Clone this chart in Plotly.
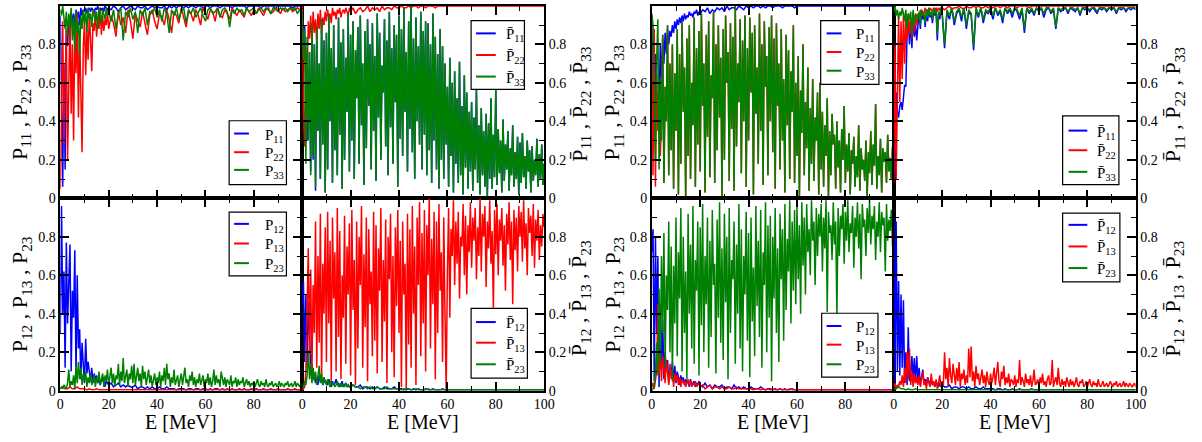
import plotly.graph_objects as go

W, H = 1202, 442
BLUE, RED, GREEN = "#0000ff", "#ff0000", "#008000"
FONT = '"Liberation Serif", "Times New Roman", Times, serif'

# Energy grids (MeV)
E_FINE = [i * 0.5 for i in range(201)]
E_MIX = [i * 0.5 for i in range(40)] + [float(e) for e in range(20, 101)]
E_COARSE = [float(e) for e in range(20)] + [float(e) for e in range(20, 101, 5)]

# ---------------- probabilities in percent ----------------
# left group, upper left: P11, P22, P33
P11_L = [95, 40, 6, 70, 15, 88, 79, 93, 85, 97, 91, 96, 89, 98, 94, 97, 90, 99, 95, 98,
         97, 99, 96, 98, 99, 97, 99, 98, 96, 99, 98, 100, 97, 99, 98, 99, 97, 100, 99, 98,
         99, 98, 100, 99, 97, 99, 100, 98, 99, 100, 99, 98, 100, 99, 99, 100, 98, 99, 100, 99,
         100, 99, 99, 100, 98, 100, 99, 100, 99, 100, 100, 99, 100, 99, 100, 100, 99, 100, 100, 99,
         100, 100, 99, 100, 100, 100, 99, 100, 100, 100, 100, 99, 100, 100, 100, 100, 100, 99, 100, 100,
         100, 100, 100, 99, 100, 100, 100, 100, 100, 99, 100, 100, 100, 100, 100, 100, 99, 100, 100, 100,
         100]
P22_L = [5, 62, 92, 28, 52, 88, 20, 74, 95, 44, 80, 30, 90, 65, 96, 42, 86, 55, 24, 78,
         93, 64, 88, 72, 96, 83, 66, 91, 87, 97, 84, 92, 88, 98, 85, 95, 87, 93, 90, 97,
         88, 95, 91, 84, 97, 90, 94, 86, 98, 92, 83, 96, 93, 89, 97, 91, 85, 95, 98, 92,
         88, 96, 94, 90, 98, 93, 86, 97, 95, 91, 99, 94, 89, 97, 96, 92, 98, 95, 90, 99,
         96, 93, 98, 97, 92, 99, 95, 94, 98, 96, 93, 99, 97, 95, 98, 96, 94, 99, 97, 95,
         98, 96, 99, 97, 95, 98, 99, 96, 97, 99, 98, 96, 99, 97, 98, 99, 97, 98, 99, 98,
         99]
P33_L = [98, 95, 100, 93, 88, 97, 84, 96, 90, 99, 82, 94, 77, 97, 86, 92, 75, 95, 88, 98,
         91, 97, 86, 99, 93, 96, 89, 98, 94, 92, 97, 88, 99, 95, 91, 98, 96, 93, 99, 95,
         97, 92, 98, 88, 96, 99, 82, 97, 94, 99, 93, 97, 86, 98, 95, 99, 90, 97, 96, 99,
         94, 98, 92, 99, 96, 86, 98, 95, 99, 93, 97, 99, 91, 98, 96, 99, 94, 97, 99, 95,
         92, 98, 99, 96, 97, 99, 94, 98, 99, 97, 89, 98, 96, 99, 97, 98, 95, 99, 97, 98,
         99, 96, 98, 99, 97, 99, 98, 96, 99, 98, 97, 99, 98, 99, 97, 99, 98, 99, 96, 98,
         99]

# left group, upper right: Pbar11, Pbar22, Pbar33
PB33_L = [97, 72, 88, 18, 84, 30, 76, 12, 91, 22, 80, 6, 89, 35, 70, 10, 93, 28, 82, 3,
          86, 15, 95, 40, 78, 8, 90, 25, 68, 12, 94, 33, 81, 5, 88, 20, 73, 45, 96, 14,
          85, 30, 92, 10, 77, 52, 89, 18, 95, 38, 70, 7, 87, 26, 93, 48, 80, 15, 91, 35,
          74, 9, 96, 42, 86, 20, 69, 55, 93, 27, 82, 12, 97, 37, 78, 18, 90, 50, 85, 6,
          95, 31, 88, 22, 99, 45, 76, 14, 92, 36, 100, 24, 83, 10, 94, 40, 79, 28, 97, 15,
          87, 33, 92, 12, 91, 25, 80, 8, 96, 30, 84, 15, 75, 5, 88, 20, 79, 10, 70, 28,
          58, 6, 73, 22, 60, 3, 66, 18, 52, 8, 71, 12, 48, 2, 64, 16, 55, 5, 45, 14,
          50, 4, 42, 15, 57, 8, 38, 2, 47, 12, 35, 6, 44, 1, 39, 10, 52, 5, 33, 11,
          57, 7, 36, 13, 30, 3, 41, 9, 28, 15, 35, 4, 26, 12, 38, 6, 24, 10, 32, 2,
          29, 8, 34, 11, 22, 5, 30, 14, 25, 3, 27, 9, 20, 12, 31, 6, 23, 10, 28, 7,
          18]
PB11_L_LOW = [98, 75, 90, 48, 30, 40, 76, 14, 91, 20, 80, 4]
PB11_L = PB11_L_LOW + PB33_L[len(PB11_L_LOW):]
PB22_L = [100, 45, 27, 78, 60, 92, 83, 95, 80, 97, 86, 93, 82, 96, 88, 98, 85, 94, 90, 97,
          92, 98, 94, 96, 91, 99, 95, 97, 93, 98, 96, 99, 94, 97, 98, 96, 99, 97, 95, 99,
          97, 99, 96, 98, 99, 97, 98, 100, 97, 99, 98, 99, 97, 100, 98, 99, 99, 98, 100, 99,
          99, 100, 99, 99, 100, 99, 100, 100, 99, 100, 100, 99, 100, 100, 100, 99, 100, 100, 100, 100,
          100, 100, 100, 100, 100, 100, 100, 100, 100, 100, 100, 100, 100, 100, 100, 100, 100, 100, 100, 100,
          100, 100, 100, 100, 100, 100, 100, 100, 100, 100, 100, 100, 100, 100, 100, 100, 100, 100, 100, 100,
          100]

# left group, lower left: P12, P13, P23
P12_L = [30, 96, 40, 62, 12, 77, 35, 55, 76, 10, 52, 38, 73, 8, 60, 22, 32, 6, 25, 14,
         4, 27, 9, 15, 11, 5, 12, 4, 9, 6, 8, 4, 7, 3, 6, 5, 7, 2, 5, 4,
         3, 4, 2, 3, 4, 2, 3, 2, 3, 2, 2, 3, 1, 2, 2, 1, 2, 1, 2, 1,
         1, 2, 1, 1, 2, 1, 1, 1, 0.5, 1, 1, 1, 0.5, 1, 1, 0.5, 1, 1, 0.5, 1,
         1, 0.5, 1, 0.5, 1, 1, 0.5, 1, 0.5, 1, 0.5, 1, 0.5, 0.5, 1, 0.5, 1, 0.5, 0.5, 1,
         0.5, 1, 0.5, 0.5, 1, 0.5, 0.5, 1, 0.5, 0.5, 1, 0.5, 0.5, 0.5, 1, 0.5, 0.5, 1, 0.5, 0.5,
         0.5]
P13_L = [1, 2, 1, 1, 2, 1, 1, 2, 1, 1, 1, 0.5, 1, 0.5, 0.5, 1, 0.5, 0.5, 0.5, 0.5,
         0.5, 0.5, 0.5, 0.5, 0.5, 0.5, 0.5, 0.5, 0.5, 0.5, 0.5, 0.5, 0.5, 0.5, 0.5, 0.5, 0.5]
P23_L = [1, 2, 1, 3, 2, 1, 4, 11, 2, 5, 3, 8, 1, 13, 4, 15, 6, 12, 3, 9,
         5, 10, 2, 7, 4, 9, 3, 6, 8, 2, 7, 4, 10, 3, 6, 9, 2, 8, 5, 11,
         3, 7, 12, 4, 9, 2, 8, 6, 14, 3, 10, 5, 17, 4, 7, 11, 2, 9, 6, 13,
         4, 14, 3, 8, 12, 5, 9, 2, 13, 6, 10, 3, 7, 11, 4, 8, 2, 6, 9, 3,
         7, 4, 10, 2, 8, 5, 12, 3, 14, 6, 9, 2, 7, 4, 11, 3, 6, 8, 2, 5,
         9, 3, 7, 12, 4, 6, 2, 8, 5, 10, 3, 7, 2, 6, 4, 9, 3, 5, 8, 2,
         6, 4, 9, 3, 7, 2, 5, 11, 3, 8, 4, 6, 2, 10, 5, 3, 7, 2, 6, 4,
         3, 8, 2, 5, 4, 7, 2, 6, 3, 5, 4, 7, 2, 4, 6, 3, 5, 2, 4, 3,
         5, 2, 4, 6, 3, 2, 5, 3, 4, 2, 6, 3, 2, 4, 3, 5, 2, 3, 4, 2,
         3, 5, 2, 4, 3, 2, 4, 3, 5, 2, 3, 4, 2, 3, 5, 2, 4, 3, 2, 4,
         3]

# left group, lower right: Pbar12, Pbar13, Pbar23
PB12_L = [45, 57, 15, 50, 12, 46, 30, 10, 14, 6, 9, 4, 7, 3, 8, 5, 6, 3, 7, 4,
          5, 3, 6, 4, 2, 5, 3, 4, 6, 3, 4, 2, 3, 5, 2, 3, 4, 2, 3, 2,
          2, 3, 2, 2, 3, 1, 2, 2, 1, 2, 1, 2, 1, 1, 2, 1, 1, 1, 2, 1,
          1, 1, 0.5, 1, 1, 0.5, 1, 0.5, 1, 0.5, 0.5, 1, 0.5, 0.5, 1, 0.5, 0.5, 0.5, 1, 0.5,
          0.5, 0.5, 0.5, 0.5, 0.5, 0.5, 0.5, 0.5, 0.5, 0.5, 0.5, 0.5, 0.5, 0.5, 0.5, 0.5, 0.5, 0.5, 0.5, 0.5,
          0.5, 0.5, 0.5, 0.5, 0.5, 0.5, 0.5, 0.5, 0.5, 0.5, 0.5, 0.5, 0.5, 0.5, 0.5, 0.5, 0.5, 0.5, 0.5, 0.5,
          0.5]
PB13_L = [0, 1, 2, 10, 45, 74, 20, 63, 8, 55, 30, 88, 12, 70, 25, 92, 5, 66, 40, 85,
          15, 93, 35, 78, 4, 90, 48, 72, 10, 95, 28, 83, 6, 60, 38, 91, 14, 75, 50, 87,
          8, 94, 42, 68, 3, 88, 22, 80, 55, 96, 12, 71, 33, 90, 5, 84, 45, 62, 18, 93,
          26, 86, 9, 74, 52, 95, 15, 68, 36, 89, 4, 80, 58, 92, 20, 70, 7, 85, 44, 94,
          30, 78, 2, 88, 50, 66, 0, 92, 24, 84, 12, 96, 40, 75, 3, 90, 55, 98, 18, 82,
          35, 94, 10, 86, 60, 100, 22, 79, 45, 93, 6, 88, 30, 97, 52, 72, 15, 90, 40, 0,
          62, 95, 38, 84, 70, 99, 55, 88, 66, 93, 48, 80, 75, 97, 60, 91, 50, 86, 72, 98,
          64, 90, 78, 95, 58, 85, 70, 100, 62, 92, 80, 96, 54, 88, 74, 99, 66, 83, 42, 94,
          71, 97, 60, 89, 78, 95, 65, 86, 52, 92, 76, 98, 68, 88, 45, 94, 73, 90, 62, 96,
          80, 93, 67, 99, 74, 87, 60, 95, 82, 91, 70, 97, 64, 89, 78, 94, 68, 86, 75, 92,
          85]
PB23_L = [1, 2, 5, 3, 8, 21, 6, 14, 4, 12, 5, 10, 3, 8, 13, 4, 9, 3, 7, 5,
          3, 6, 4, 2, 5, 3, 4, 2, 3, 5, 2, 3, 4, 2, 3, 2, 4, 2, 3, 2,
          2, 3, 2, 2, 1, 2, 2, 1, 2, 1, 1, 2, 1, 1, 1, 2, 1, 1, 1, 1,
          1, 0.5, 1, 0.5, 1, 0.5, 0.5, 1, 0.5, 0.5, 0.5, 0.5, 1, 0.5, 0.5, 0.5, 0.5, 0.5, 0.5, 0.5,
          0.5, 0.5, 0.5, 0.5, 0.5, 0.5, 0.5, 0.5, 0.5, 0.5, 0.5, 0.5, 0.5, 0.5, 0.5, 0.5, 0.5, 0.5, 0.5, 0.5,
          0.5, 0.5, 0.5, 0.5, 0.5, 0.5, 0.5, 0.5, 0.5, 0.5, 0.5, 0.5, 0.5, 0.5, 0.5, 0.5, 0.5, 0.5, 0.5, 0.5,
          0.5]

# right group, upper left: P11, P22, P33
P33_R = [96, 90, 55, 20, 72, 93, 15, 62, 30, 85, 8, 58, 40, 90, 12, 70, 25, 80, 5, 65,
         35, 88, 2, 75, 18, 92, 45, 68, 0, 83, 22, 90, 10, 60, 38, 94, 6, 78, 28, 87,
         14, 96, 48, 70, 3, 85, 32, 92, 11, 64, 52, 97, 8, 80, 25, 90, 42, 73, 1, 88,
         20, 95, 60, 76, 9, 91, 36, 84, 4, 100, 27, 70, 50, 93, 13, 82, 40, 95, 6, 78,
         30, 94, 55, 86, 2, 90, 44, 68, 18, 96, 35, 80, 7, 92, 58, 74, 12, 89, 40, 95,
         24, 83, 5, 91, 48, 70, 15, 88, 30, 62, 3, 85, 38, 77, 10, 66, 45, 90, 8, 60,
         22, 74, 0, 56, 34, 80, 12, 50, 26, 68, 4, 47, 18, 62, 9, 42, 30, 55, 2, 60,
         15, 45, 6, 38, 22, 52, 1, 35, 12, 44, 28, 33, 5, 40, 16, 30, 3, 36, 20, 48,
         8, 28, 14, 34, 2, 25, 18, 32, 6, 22, 11, 38, 4, 26, 15, 20, 9, 30, 1, 24,
         13, 35, 7, 28, 17, 49, 5, 22, 12, 31, 3, 26, 19, 24, 8, 33, 14, 21, 10, 27,
         16]
P22_R_LOW = [90, 12, 88, 6, 65, 35, 58, 22, 40, 85]
P22_R = P22_R_LOW + P33_R[len(P22_R_LOW):]
P11_R = [92, 60, 30, 75, 45, 55, 47, 80, 60, 83, 70, 86, 75, 88, 80, 87, 84, 90, 86, 92,
         88, 93, 90, 94, 91, 95, 92, 96, 93, 95, 94, 97, 95, 96, 94, 97, 96, 98, 95, 97,
         96, 98, 97, 99, 96, 98, 97, 99, 98, 99, 97, 100, 98, 99, 99, 98, 100, 99, 98, 100,
         99, 100, 99, 100, 100, 99, 100, 99, 100, 100, 99, 100, 100, 100, 99, 100, 100, 100, 100, 99,
         100, 100, 100, 100, 100, 100, 100, 100, 100, 100, 100, 100, 100, 100, 100, 100, 100, 100, 100, 100,
         100, 100, 100, 100, 100, 100, 100, 100, 100, 100, 100, 100, 100, 100, 100, 100, 100, 100, 100, 100,
         100]

# right group, upper right: Pbar11, Pbar22, Pbar33
PB11_R = [10, 35, 55, 45, 42, 48, 50, 46, 52, 59, 58, 85, 93, 80, 92, 78, 95, 84, 90, 82,
          90, 96, 88, 98, 93, 95, 89, 97, 92, 99, 94, 96, 91, 98, 95, 97, 82, 96, 93, 98,
          96, 78, 97, 93, 99, 90, 96, 98, 92, 99, 88, 97, 95, 77, 98, 94, 99, 91, 97, 96,
          98, 93, 99, 95, 97, 91, 99, 96, 98, 94, 99, 97, 93, 98, 86, 99, 96, 98, 95, 99,
          97, 99, 94, 98, 99, 96, 98, 88, 99, 97, 98, 99, 96, 99, 98, 97, 99, 95, 99, 98,
          99, 97, 99, 98, 96, 99, 98, 99, 97, 99, 98, 99, 96, 99, 98, 99, 97, 99, 98, 99,
          98]
PB22_R = [8, 80, 10, 60, 95, 50, 92, 62, 97, 70, 93, 82, 96, 85, 94, 83, 97, 86, 95, 90,
          96, 93, 98, 95, 97, 96, 99, 97, 98, 96, 99, 98, 97, 99, 98, 99, 97, 99, 98, 99,
          99, 98, 99, 100, 98, 99, 99, 100, 99, 98, 100, 99, 99, 100, 99, 100, 99, 99, 100, 99,
          100, 99, 100, 100, 99, 100, 100, 99, 100, 100, 100, 99, 100, 100, 100, 100, 99, 100, 100, 100,
          100, 100, 100, 100, 100, 100, 100, 100, 100, 100, 100, 100, 100, 100, 100, 100, 100, 100, 100, 100,
          100, 100, 100, 100, 100, 100, 100, 100, 100, 100, 100, 100, 100, 100, 100, 100, 100, 100, 100, 100,
          100]
PB33_R = [97, 100, 95, 98, 93, 97, 95, 99, 96, 92, 98, 88, 96, 93, 97, 85, 98, 90, 96, 94,
          93, 97, 90, 98, 95, 96, 91, 98, 94, 99, 95, 97, 93, 99, 96, 98, 85, 97, 95, 99,
          97, 80, 98, 95, 99, 92, 97, 99, 94, 99, 90, 98, 96, 79, 99, 95, 99, 93, 98, 97,
          99, 95, 99, 96, 98, 93, 99, 97, 99, 96, 99, 98, 95, 99, 88, 99, 97, 99, 96, 99,
          98, 99, 96, 99, 99, 97, 99, 89, 99, 98, 99, 99, 97, 99, 99, 98, 99, 96, 99, 99,
          99, 98, 99, 99, 97, 99, 99, 99, 98, 99, 99, 99, 97, 99, 99, 99, 98, 99, 99, 99,
          99]

# right group, lower left: P12, P13, P23
P12_R = [72, 84, 5, 80, 30, 70, 2, 45, 12, 37, 6, 20, 10, 16, 4, 12, 8, 15, 5, 13,
         4, 10, 7, 3, 8, 5, 7, 3, 6, 4, 5, 2, 6, 3, 4, 5, 2, 4, 3, 5,
         3, 2, 4, 2, 3, 1, 3, 2, 2, 3, 1, 2, 2, 1, 3, 1, 2, 1, 2, 1,
         1, 2, 1, 1, 1, 2, 1, 0.5, 1, 1, 0.5, 1, 0.5, 1, 0.5, 1, 0.5, 0.5, 1, 0.5,
         0.5, 0.5, 0.5, 0.5, 0.5, 0.5, 0.5, 0.5, 0.5, 0.5, 0.5, 0.5, 0.5, 0.5, 0.5, 0.5, 0.5, 0.5, 0.5, 0.5,
         0.5, 0.5, 0.5, 0.5, 0.5, 0.5, 0.5, 0.5, 0.5, 0.5, 0.5, 0.5, 0.5, 0.5, 0.5, 0.5, 0.5, 0.5, 0.5, 0.5,
         0.5]
P13_R = [2, 4, 1, 6, 10, 45, 8, 20, 5, 18, 12, 4, 16, 9, 3, 14, 6, 11, 2, 9,
         5, 8, 3, 7, 2, 6, 4, 5, 2, 4, 6, 3, 5, 2, 4, 3, 5, 2, 3, 4,
         2, 3, 1, 2, 3, 1, 2, 2, 1, 2, 1, 1, 2, 1, 1, 2, 1, 1, 1, 1,
         1, 1, 0.5, 1, 1, 0.5, 1, 0.5, 1, 0.5, 1, 0.5, 0.5, 1, 0.5, 0.5, 0.5, 1, 0.5, 0.5,
         0.5, 0.5, 0.5, 0.5, 0.5, 0.5, 0.5, 0.5, 0.5, 0.5, 0.5, 0.5, 0.5, 0.5, 0.5, 0.5, 0.5, 0.5, 0.5, 0.5,
         0.5, 0.5, 0.5, 0.5, 0.5, 0.5, 0.5, 0.5, 0.5, 0.5, 0.5, 0.5, 0.5, 0.5, 0.5, 0.5, 0.5, 0.5, 0.5, 0.5,
         0.5]
P23_R = [0, 1, 3, 10, 25, 8, 53, 15, 70, 30, 82, 12, 60, 42, 88, 20, 75, 5, 65, 35,
         90, 18, 72, 48, 95, 10, 80, 30, 62, 6, 92, 40, 76, 22, 96, 14, 68, 52, 88, 8,
         85, 34, 97, 20, 70, 45, 90, 12, 78, 28, 94, 55, 66, 9, 89, 38, 98, 25, 74, 16,
         92, 46, 80, 6, 95, 30, 68, 58, 88, 14, 76, 40, 97, 22, 84, 10, 70, 50, 93, 26,
         82, 7, 90, 36, 64, 18, 96, 44, 78, 28, 94, 12, 72, 55, 98, 20, 86, 38, 91, 5,
         80, 48, 95, 30, 74, 15, 92, 58, 84, 26, 97, 42, 79, 62, 99, 35, 88, 52, 94, 45,
         96, 58, 86, 40, 98, 65, 90, 50, 97, 72, 84, 60, 99, 78, 88, 55, 95, 70, 92, 80,
         97, 62, 90, 74, 99, 41, 93, 82, 86, 68, 98, 76, 88, 38, 95, 70, 91, 84, 97, 66,
         93, 78, 99, 72, 87, 82, 96, 64, 90, 80, 98, 74, 92, 58, 97, 85, 89, 70, 95, 82,
         99, 76, 91, 84, 96, 68, 88, 80, 98, 72, 93, 86, 90, 62, 97, 78, 89, 83, 94, 75,
         88]

# right group, lower right: Pbar12, Pbar13, Pbar23
PB12_R = [90, 5, 88, 10, 57, 8, 50, 12, 47, 4, 20, 3, 33, 5, 8, 18, 6, 17, 4, 18,
          5, 12, 3, 8, 11, 4, 6, 3, 7, 5, 4, 6, 3, 4, 2, 5, 3, 2, 4, 2,
          3, 2, 2, 3, 1, 2, 2, 1, 2, 2, 1, 2, 1, 1, 2, 1, 1, 2, 1, 1,
          1, 1, 0.5, 1, 1, 0.5, 1, 0.5, 0.5, 1, 0.5, 0.5, 1, 0.5, 0.5, 0.5, 0.5, 1, 0.5, 0.5,
          0.5, 0.5, 0.5, 0.5, 0.5, 0.5, 0.5, 0.5, 0.5, 0.5, 0.5, 0.5, 0.5, 0.5, 0.5, 0.5, 0.5, 0.5, 0.5, 0.5,
          0.5, 0.5, 0.5, 0.5, 0.5, 0.5, 0.5, 0.5, 0.5, 0.5, 0.5, 0.5, 0.5, 0.5, 0.5, 0.5, 0.5, 0.5, 0.5, 0.5,
          0.5]
PB13_R = [2, 4, 1, 3, 2, 5, 3, 8, 2, 12, 4, 20, 6, 22, 3, 10, 2, 9, 4, 7,
          3, 8, 2, 6, 10, 3, 5, 1, 7, 4, 2, 9, 3, 5, 2, 6, 1, 4, 8, 2,
          5, 3, 20, 6, 12, 2, 17, 8, 4, 14, 7, 3, 12, 5, 15, 2, 9, 6, 11, 3,
          8, 4, 22, 7, 23, 5, 10, 2, 13, 6, 9, 3, 7, 11, 4, 8, 2, 10, 5, 3,
          9, 4, 7, 12, 3, 8, 15, 5, 2, 10, 6, 13, 3, 7, 4, 9, 2, 6, 5, 3,
          8, 2, 6, 4, 16, 3, 7, 5, 2, 9, 4, 6, 3, 8, 2, 5, 11, 3, 4, 6,
          2, 7, 4, 9, 3, 5, 2, 6, 8, 3, 4, 16, 2, 5, 7, 3, 12, 4, 2, 6,
          3, 5, 2, 7, 4, 2, 6, 3, 5, 2, 4, 7, 3, 2, 5, 4, 6, 2, 3, 5,
          2, 4, 6, 3, 2, 5, 3, 4, 2, 6, 3, 2, 4, 5, 2, 3, 4, 2, 3, 5,
          3, 2, 4, 3, 5, 2, 3, 4, 2, 3, 5, 2, 4, 3, 2, 4, 3, 2, 3, 4,
          2]
PB23_R = [1, 1, 2, 1, 1, 0.5, 1, 0.5, 0.5, 1, 0.5, 0.5, 0.5, 0.5, 0.5, 0.5, 0.5, 0.5, 0.5, 0.5,
          0.5, 0.5, 0.5, 0.5, 0.5, 0.5, 0.5, 0.5, 0.5, 0.5, 0.5, 0.5, 0.5, 0.5, 0.5, 0.5, 0.5]

# ---------------- labels ----------------
BAR = "P\u0304"
def lab(idx, bar=False):
    return f"{BAR if bar else 'P'}<sub>{idx}</sub>"

def ytitle(idxs, bar=False):
    return " , ".join(lab(i, bar) for i in idxs)

# ---------------- layout helpers (pixel -> paper) ----------------
def fx(px):
    return px / W

def fy(py):
    return 1 - py / H

X_TICKS = [0, 20, 40, 60, 80, 100]
Y_TICKS = [0, 0.2, 0.4, 0.6, 0.8, 1.0]

# panel: pixel box, y side, whether bottom row, whether rightmost of its pair,
# whether "1" is labelled, traces, legend geometry
PANELS = [
    dict(box=(57, 302, 6, 202), side="left", bottom=False, last=False, one=False,
         traces=[(E_MIX, P11_L, BLUE), (E_MIX, P22_L, RED), (E_MIX, P33_L, GREEN)],
         legend=dict(box=(228, 123, 286, 188), rows=(136, 155, 173), sx=(233, 248), tx=262,
                     labels=[lab(11), lab(22), lab(33)])),
    dict(box=(302, 547, 6, 202), side="right", bottom=False, last=True, one=True,
         traces=[(E_FINE, PB11_L, BLUE), (E_MIX, PB22_L, RED), (E_FINE, PB33_L, GREEN)],
         legend=dict(box=(473, 21, 527, 91), rows=(34, 56, 78), sx=(478, 498), tx=506,
                     labels=[lab(11, True), lab(22, True), lab(33, True)])),
    dict(box=(57, 302, 202, 398), side="left", bottom=True, last=False, one=False,
         traces=[(E_MIX, P12_L, BLUE), (E_COARSE, P13_L, RED), (E_FINE, P23_L, GREEN)],
         legend=dict(box=(228, 216, 286, 281), rows=(228, 248, 268), sx=(233, 248), tx=262,
                     labels=[lab(12), lab(13), lab(23)])),
    dict(box=(302, 547, 202, 398), side="right", bottom=True, last=True, one=False,
         traces=[(E_MIX, PB12_L, BLUE), (E_FINE, PB13_L, RED), (E_MIX, PB23_L, GREEN)],
         legend=dict(box=(473, 314, 530, 385), rows=(328, 349, 371), sx=(478, 498), tx=506,
                     labels=[lab(12, True), lab(13, True), lab(23, True)])),
    dict(box=(656, 901, 6, 202), side="left", bottom=False, last=False, one=False,
         traces=[(E_MIX, P11_R, BLUE), (E_FINE, P22_R, RED), (E_FINE, P33_R, GREEN)],
         legend=dict(box=(827, 21, 886, 86), rows=(34, 53, 72), sx=(833, 848), tx=861,
                     labels=[lab(11), lab(22), lab(33)])),
    dict(box=(901, 1146, 6, 202), side="right", bottom=False, last=True, one=True,
         traces=[(E_MIX, PB11_R, BLUE), (E_MIX, PB22_R, RED), (E_MIX, PB33_R, GREEN)],
         legend=dict(box=(1072, 118, 1129, 188), rows=(133, 153, 175), sx=(1078, 1097), tx=1105,
                     labels=[lab(11, True), lab(22, True), lab(33, True)])),
    dict(box=(656, 901, 202, 398), side="left", bottom=True, last=False, one=False,
         traces=[(E_MIX, P12_R, BLUE), (E_MIX, P13_R, RED), (E_FINE, P23_R, GREEN)],
         legend=dict(box=(828, 319, 885, 384), rows=(332, 351, 371), sx=(833, 848), tx=861,
                     labels=[lab(12), lab(13), lab(23)])),
    dict(box=(901, 1146, 202, 398), side="right", bottom=True, last=True, one=False,
         traces=[(E_MIX, PB12_R, BLUE), (E_FINE, PB13_R, RED), (E_COARSE, PB23_R, GREEN)],
         legend=dict(box=(1072, 217, 1130, 287), rows=(229, 251, 273), sx=(1078, 1097), tx=1105,
                     labels=[lab(12, True), lab(13, True), lab(23, True)])),
]

fig = go.Figure()
layout = dict(width=W, height=H, margin=dict(l=0, r=0, t=0, b=0),
              paper_bgcolor="white", plot_bgcolor="white", showlegend=False,
              font=dict(family=FONT, color="black"))
shapes, annotations = [], []

TICKFONT = dict(family=FONT, size=14, color="black")
MINOR = dict(ticks="inside", ticklen=5, tickwidth=1.2, tickcolor="black", showgrid=False)

def axis_style():
    return dict(showline=True, linecolor="black", linewidth=1.5, mirror="ticks",
                ticks="inside", ticklen=9, tickwidth=1.5, tickcolor="black",
                showgrid=False, zeroline=False, tickmode="array", tickfont=TICKFONT)

for i, p in enumerate(PANELS, start=1):
    x0, x1, y0, y1 = p["box"]
    # the end ticks at 100 / 1 sit on the frame, so they are only listed when labelled
    xvals = X_TICKS if p["last"] else X_TICKS[:-1]
    yvals = Y_TICKS if p["one"] else Y_TICKS[:-1]
    xa = axis_style()
    xa.update(domain=[fx(x0), fx(x1)], anchor=f"y{i}", range=[0, 100],
              tickvals=xvals, ticktext=[str(v) for v in xvals],
              showticklabels=p["bottom"],
              minor=dict(MINOR, tickmode="array", tickvals=[10, 30, 50, 70, 90]))
    ya = axis_style()
    ya.update(domain=[fy(y1), fy(y0)], anchor=f"x{i}", range=[0, 1], side=p["side"],
              tickvals=yvals, ticktext=["0", "0.2", "0.4", "0.6", "0.8", "1"][:len(yvals)],
              minor=dict(MINOR, tickmode="array", tickvals=[0.1, 0.3, 0.5, 0.7, 0.9]))
    layout[f"xaxis{i}"] = xa
    layout[f"yaxis{i}"] = ya

    for grid, vals, color in p["traces"]:
        assert len(grid) == len(vals), (i, color, len(grid), len(vals))
        fig.add_trace(go.Scatter(x=grid, y=[v / 100 for v in vals], mode="lines",
                                 line=dict(color=color, width=1.5),
                                 xaxis=f"x{i}", yaxis=f"y{i}", hoverinfo="skip"))

    lg = p["legend"]
    bx0, by0, bx1, by1 = lg["box"]
    shapes.append(dict(type="rect", xref="paper", yref="paper",
                       x0=fx(bx0), x1=fx(bx1), y0=fy(by1), y1=fy(by0),
                       line=dict(color="black", width=1.2), fillcolor="white", layer="above"))
    for row_y, color, text in zip(lg["rows"], (BLUE, RED, GREEN), lg["labels"]):
        shapes.append(dict(type="line", xref="paper", yref="paper",
                           x0=fx(lg["sx"][0]), x1=fx(lg["sx"][1]), y0=fy(row_y), y1=fy(row_y),
                           line=dict(color=color, width=2), layer="above"))
        annotations.append(dict(text=text, xref="paper", yref="paper",
                                x=fx(lg["tx"]), y=fy(row_y + 2), xanchor="left", yanchor="middle",
                                showarrow=False, font=dict(family=FONT, size=15, color="black")))

# axis titles
TITLE_FONT = dict(family=FONT, size=22, color="black")
for xpix, ypix, text in [
    (17, 104, ytitle((11, 22, 33))), (17, 300, ytitle((12, 13, 23))),
    (584, 106, ytitle((11, 22, 33), True)), (584, 304, ytitle((12, 13, 23), True)),
    (617, 104, ytitle((11, 22, 33))), (617, 300, ytitle((12, 13, 23))),
    (1185, 106, ytitle((11, 22, 33), True)), (1185, 304, ytitle((12, 13, 23), True)),
]:
    annotations.append(dict(text=text, xref="paper", yref="paper", x=fx(xpix), y=fy(ypix),
                            xanchor="center", yanchor="middle", textangle=-90,
                            showarrow=False, font=TITLE_FONT))
for xpix in (179.5, 424.5, 778.5, 1023.5):
    annotations.append(dict(text="E [MeV]", xref="paper", yref="paper", x=fx(xpix), y=fy(430),
                            xanchor="center", yanchor="middle", showarrow=False,
                            font=dict(family=FONT, size=20, color="black")))

layout["shapes"] = shapes
layout["annotations"] = annotations
fig.update_layout(**layout)
fig.write_html("out.html")
